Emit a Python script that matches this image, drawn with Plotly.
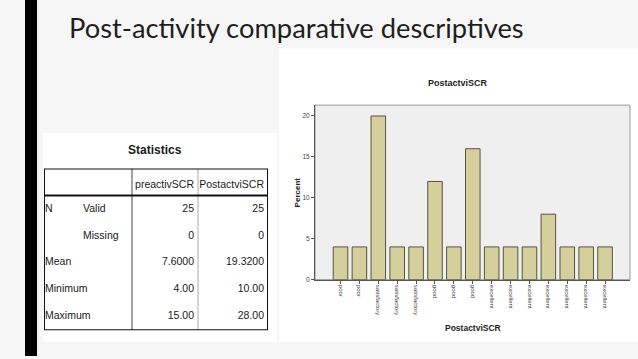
import plotly.graph_objects as go

# ---------------- data ----------------
bar_labels = ["poor", "poor", "satisfactory", "satisfactory", "satisfactory",
              "good", "good", "good", "excellent", "excellent", "excellent",
              "excellent", "excellent", "excellent", "excellent"]
bar_percent = [4, 4, 20, 4, 4, 12, 4, 16, 4, 4, 4, 8, 4, 4, 4]
y_ticks = [0, 5, 10, 15, 20]

table_row_head = ["N", "", "Mean", "Minimum", "Maximum"]
table_row_sub = ["Valid", "Missing", "", "", ""]
table_columns = ["preactivSCR", "PostactviSCR"]
pre_values = ["25", "0", "7.6000", "4.00", "15.00"]
post_values = ["25", "0", "19.3200", "10.00", "28.00"]

slide_title = "Post-activity comparative descriptives"
chart_title = "PostactviSCR"
table_title = "Statistics"

W, H = 638, 359
def px_x(x):
    return x / W
def px_y(y):
    return 1 - y / H

NARROW = "Liberation Sans Narrow, Arial Narrow, Liberation Sans, Arial, sans-serif"
ARIAL = "Liberation Sans, Arial, sans-serif"
TFS = 10.5

fig = go.Figure()

# ---------------- bar chart ----------------
xs = list(range(len(bar_percent)))
fig.add_trace(go.Bar(
    x=xs, y=bar_percent, width=0.77,
    marker=dict(color="#d5d09b", line=dict(color="#55553f", width=1)),
    xaxis="x", yaxis="y", showlegend=False, hoverinfo="skip",
))

# ---------------- table (text via its own axes) ----------------
tx0, tx1 = 44, 268          # table box in px
ty0, ty1 = 170, 333
col_bounds = [44, 132, 198, 268]
n_rows = 6

def row_y(i):
    return i + 0.5

body_rows = list(range(1, 6))
fig.add_trace(go.Scatter(
    x=[tx0 + 1] * 5, y=[row_y(r) for r in body_rows], text=table_row_head,
    mode="text", textposition="middle right",
    textfont=dict(family=NARROW, size=TFS, color="#1a1a1a"),
    xaxis="x2", yaxis="y2", showlegend=False, hoverinfo="skip",
))
fig.add_trace(go.Scatter(
    x=[tx0 + 39] * 5, y=[row_y(r) for r in body_rows], text=table_row_sub,
    mode="text", textposition="middle right",
    textfont=dict(family=NARROW, size=TFS, color="#1a1a1a"),
    xaxis="x2", yaxis="y2", showlegend=False, hoverinfo="skip",
))
for ci, (vals, head) in enumerate(zip([pre_values, post_values], table_columns)):
    xr = col_bounds[ci + 2] - 4
    fig.add_trace(go.Scatter(
        x=[xr] * 6, y=[row_y(0) + 0.12] + [row_y(r) for r in body_rows],
        text=[head] + vals,
        mode="text", textposition="middle left",
        textfont=dict(family=NARROW, size=TFS, color="#1a1a1a"),
        xaxis="x2", yaxis="y2", showlegend=False, hoverinfo="skip",
    ))

shapes = []
# white panels (paper, below)
shapes.append(dict(type="rect", xref="paper", yref="paper", layer="below",
                   x0=px_x(43), x1=px_x(277), y0=px_y(345), y1=px_y(134),
                   fillcolor="white", line=dict(width=0)))
shapes.append(dict(type="rect", xref="paper", yref="paper", layer="below",
                   x0=px_x(279), x1=1, y0=px_y(345), y1=px_y(49),
                   fillcolor="white", line=dict(width=0)))
# black vertical bar
shapes.append(dict(type="rect", xref="paper", yref="paper", layer="below",
                   x0=px_x(25), x1=px_x(37), y0=0, y1=1,
                   fillcolor="black", line=dict(width=0)))
# plot area gray
shapes.append(dict(type="rect", xref="x domain", yref="y domain", layer="below",
                   x0=0, x1=1, y0=0, y1=1,
                   fillcolor="#efefef", line=dict(color="#9a9a9a", width=1)))
# table lines (x2/y2)
shapes.append(dict(type="line", xref="x2", yref="y2", x0=col_bounds[1], x1=col_bounds[1],
                   y0=0, y1=n_rows, line=dict(color="#444", width=1)))
shapes.append(dict(type="line", xref="x2", yref="y2", x0=col_bounds[2], x1=col_bounds[2],
                   y0=0, y1=n_rows, line=dict(color="#aaa", width=1)))
shapes.append(dict(type="line", xref="x2", yref="y2", x0=tx0, x1=tx1,
                   y0=1, y1=1, line=dict(color="#111", width=2)))
shapes.append(dict(type="rect", xref="x2", yref="y2", x0=tx0, x1=tx1,
                   y0=0, y1=n_rows, line=dict(color="#111", width=2)))

annotations = [
    dict(text=slide_title, xref="paper", yref="paper", x=px_x(67), y=px_y(28),
         xanchor="left", yanchor="middle", showarrow=False,
         font=dict(family="Lato, Open Sans, sans-serif", size=27.3, color="#1e1e1e")),
    dict(text="<b>%s</b>" % table_title, xref="paper", yref="paper", x=px_x(155), y=px_y(151),
         xanchor="center", yanchor="middle", showarrow=False,
         font=dict(family=NARROW, size=12, color="#1a1a1a")),
    dict(text="<b>%s</b>" % chart_title, xref="paper", yref="paper", x=px_x(458), y=px_y(84),
         xanchor="center", yanchor="middle", showarrow=False,
         font=dict(family=ARIAL, size=9, color="#222")),
    dict(text="<b>%s</b>" % chart_title, xref="x domain", yref="paper", x=0.5, y=px_y(331),
         xanchor="center", yanchor="middle", showarrow=False,
         font=dict(family=ARIAL, size=8.5, color="#222")),
    dict(text="<b>Percent</b>", xref="paper", yref="y domain", x=px_x(297), y=0.5,
         xanchor="center", yanchor="middle", showarrow=False, textangle=-90,
         font=dict(family=ARIAL, size=8, color="#222")),
]

fig.update_layout(
    width=W, height=H,
    margin=dict(l=0, r=0, t=0, b=0),
    paper_bgcolor="#f6f6f6",
    plot_bgcolor="rgba(0,0,0,0)",
    bargap=0.2,
    xaxis=dict(domain=[px_x(315), px_x(630)], range=[-1.35, 15.32],
               tickmode="array", tickvals=xs, ticktext=bar_labels, tickangle=90,
               ticks="outside", ticklen=3, tickcolor="#555",
               tickfont=dict(family=ARIAL, size=6, color="#444"),
               showline=True, linecolor="#555", linewidth=1,
               showgrid=False, zeroline=False, fixedrange=True),
    yaxis=dict(domain=[px_y(282), px_y(106)], range=[0, 21.33],
               tickmode="array", tickvals=y_ticks,
               ticks="outside", ticklen=3, tickcolor="#555",
               tickfont=dict(family=ARIAL, size=6.5, color="#444"),
               showline=True, linecolor="#555", linewidth=1,
               showgrid=False, zeroline=False, fixedrange=True),
    xaxis2=dict(domain=[px_x(tx0), px_x(tx1)], range=[tx0, tx1], visible=False,
                anchor="y2", fixedrange=True),
    yaxis2=dict(domain=[px_y(ty1), px_y(ty0)], range=[n_rows, 0], visible=False,
                anchor="x2", fixedrange=True),
    shapes=shapes,
    annotations=annotations,
)

fig.write_html("out.html", config={"displayModeBar": False},
               post_script="document.body.style.margin='0';document.body.style.padding='0';document.body.style.overflow='hidden';")
